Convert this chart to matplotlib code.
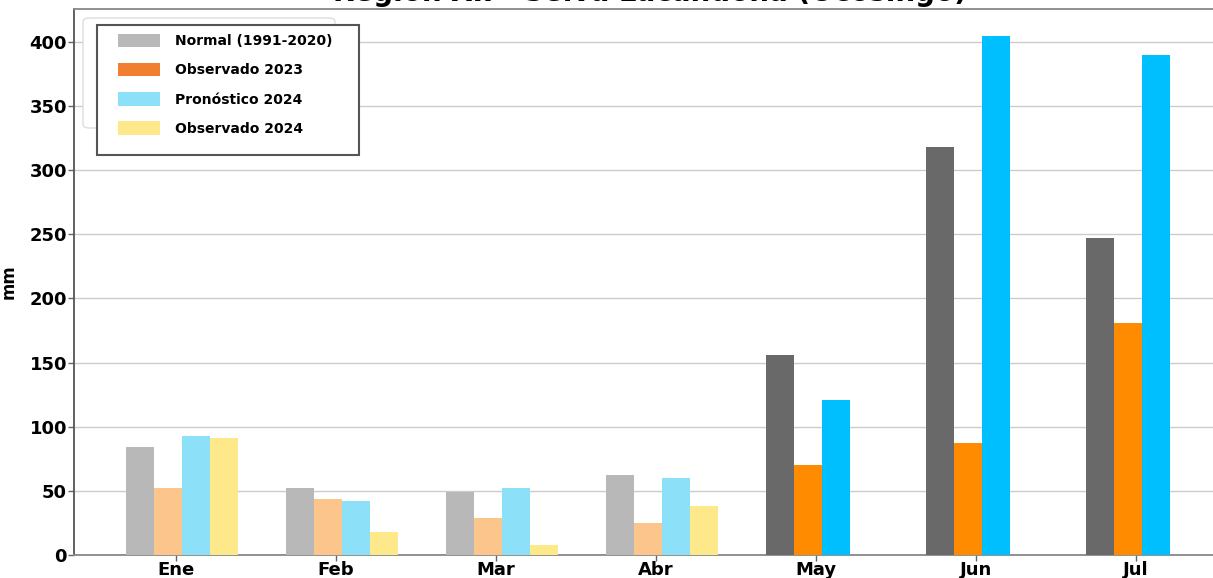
import numpy as np
import matplotlib
matplotlib.use("Agg")
import matplotlib.pyplot as plt
from matplotlib.patches import FancyBboxPatch, Patch, Rectangle

months = ["Ene", "Feb", "Mar", "Abr", "May", "Jun", "Jul"]
normal = [84, 52, 49, 62, 156, 318, 247]
obs2023 = [52, 44, 29, 25, 70, 87, 181]
pron2024 = [93, 42, 52, 60, 121, 405, 390]
obs2024 = [91, 18, 8, 38]

labels = ["Normal (1991-2020)", "Observado 2023", "Pronóstico 2024", "Observado 2024"]
light_colors = ["#b8b8b8", "#fbc58b", "#8ce0f8", "#fde98a"]
dark_colors = ["#696969", "#ff8c00", "#00bfff"]
legend_colors = ["#b9b9b9", "#f07f32", "#8ce0f8", "#fde98a"]
n_light = 4

plt.rcParams['font.family'] = ['DejaVu Sans']
W, H = 1213, 578
fig = plt.figure(figsize=(W/100, H/100), dpi=100)
ax = fig.add_axes([74/W, 1-555/H, (1225-74)/W, (555-9)/H])

x = np.arange(len(months))
w = 0.175
offs = (np.arange(4) - 1.5) * w + 0.04
series = [normal, obs2023, pron2024, obs2024]
for si, vals in enumerate(series):
    for mi, v in enumerate(vals):
        col = light_colors[si] if mi < n_light else dark_colors[si]
        ax.bar(x[mi] + offs[si], v, width=w, color=col, zorder=3)

ax.set_xlim((74-175.7)/160, (1225-175.7)/160)
ax.set_ylim(0, 425.7)
ax.set_yticks(np.arange(0, 401, 50))
ax.set_xticks(x)
ax.set_xticklabels(months)
ax.tick_params(axis='both', labelsize=13, length=4, width=1, color='#666666', pad=1)
ax.tick_params(axis='x', pad=0.5)
for lab in ax.get_xticklabels() + ax.get_yticklabels():
    lab.set_fontweight('bold')
ax.yaxis.grid(True, color='#cccccc', linewidth=1, zorder=0)
ax.set_axisbelow(True)
for s in ['top', 'bottom', 'left', 'right']:
    ax.spines[s].set_color('#888888')
    ax.spines[s].set_linewidth(1.3)
ax.spines['left'].set_color('#555555')
ax.set_ylabel("mm", fontsize=12, fontweight='bold')
ax.yaxis.set_label_coords((17.5-74)/1151, 0.5)
ax.set_title("Región XII - Selva Lacandona (Ocosingo)", fontsize=20, fontweight='bold', pad=6)

def px_rect(x0, y0, x1, y1):
    return (x0/W, 1-y1/H), (x1-x0)/W, (y1-y0)/H

# faint background frame
(xy, ww, hh) = px_rect(83, 18, 335, 128)
bg = FancyBboxPatch(xy, ww, hh, boxstyle="round,pad=0,rounding_size=0.006",
                    transform=fig.transFigure, facecolor='white', edgecolor='#dddddd',
                    linewidth=1, zorder=5, clip_on=False)
ax.add_patch(bg)
# main legend frame
(xy, ww, hh) = px_rect(97, 25, 359, 155)
fr = Rectangle(xy, ww, hh, transform=fig.transFigure, facecolor='white',
               edgecolor='#555555', linewidth=1.5, zorder=6, clip_on=False)
ax.add_patch(fr)

handles = [Patch(facecolor=c, edgecolor='none') for c in legend_colors]
leg = ax.legend(handles, labels, loc='upper left',
                bbox_to_anchor=(118/W, 1-34/H), bbox_transform=fig.transFigure,
                borderaxespad=0, frameon=False,
                prop={'size': 10, 'weight': 'bold'},
                handlelength=3.0, handleheight=1.1, labelspacing=1.06,
                handletextpad=1.08, borderpad=0)
leg.set_zorder(10)

fig.savefig("out.png", dpi=100)
